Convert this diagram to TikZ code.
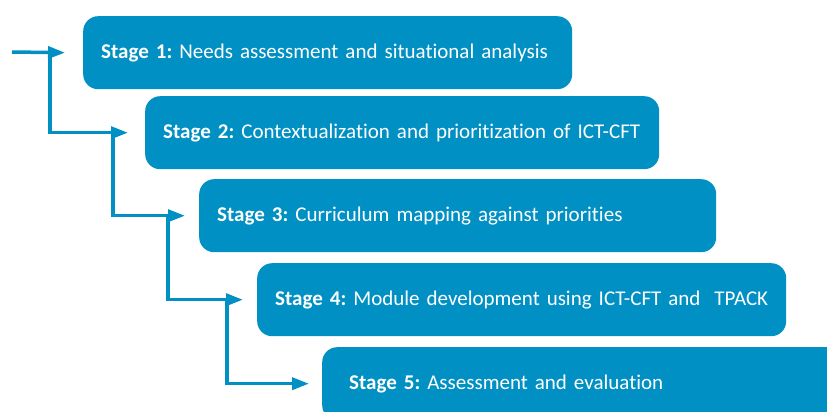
\documentclass[tikz,border=0pt]{standalone}
\usepackage{fontspec}
\setmainfont{Carlito}[Ligatures=NoCommon]
\usetikzlibrary{arrows.meta}
\definecolor{stageblue}{RGB}{0,144,195}
\frenchspacing
\newcommand{\stagetext}[2]{\makebox[\linewidth][l]{\textbf{#1} #2}}
\begin{document}
\begin{tikzpicture}[x=1pt,y=-1pt,
  stagebox/.style={fill=stageblue, rounded corners=15pt, minimum height=73pt, inner xsep=18pt,
    anchor=north west, text=white, align=left, font=\fontsize{21}{25}\selectfont},
  flow/.style={draw=stageblue, line width=3.5pt, -{Triangle[length=17pt,width=12pt]}}]
\useasboundingbox (0,0) rectangle (827,412);
\clip (0,0) rectangle (827,412);
\node[stagebox, text width=453pt] (b1) at (83,16) {\stagetext{Stage 1:}{Needs assessment and situational analysis}};
\node[stagebox, text width=478pt] (b2) at (145,96) {\stagetext{Stage 2:}{Contextualization and prioritization of ICT-CFT}};
\node[stagebox, text width=481pt] (b3) at (199,179) {\stagetext{Stage 3:}{Curriculum mapping against priorities}};
\node[stagebox, text width=493pt] (b4) at (257,263) {\stagetext{Stage 4:}{Module development using ICT-CFT and\ \ TPACK}};
\node[stagebox, text width=520pt, inner xsep=27pt] (b5) at (322,347) {\stagetext{Stage 5:}{Assessment and evaluation}};
\coordinate (s) at (12,52);
\coordinate (j1) at (50,52);
\coordinate (j2) at (113,133);
\coordinate (j3) at (168,215.5);
\coordinate (j4) at (227,299.5);
\draw[flow] (s) -- ([xshift=-18pt]b1.west);
\draw[flow] (j1) |- ([xshift=-17pt]b2.west);
\draw[flow] (j2) |- ([xshift=-14pt]b3.west);
\draw[flow] (j3) |- ([xshift=-14pt]b4.west);
\draw[flow] (j4) |- ([xshift=-13pt]b5.west);
\end{tikzpicture}
\end{document}
